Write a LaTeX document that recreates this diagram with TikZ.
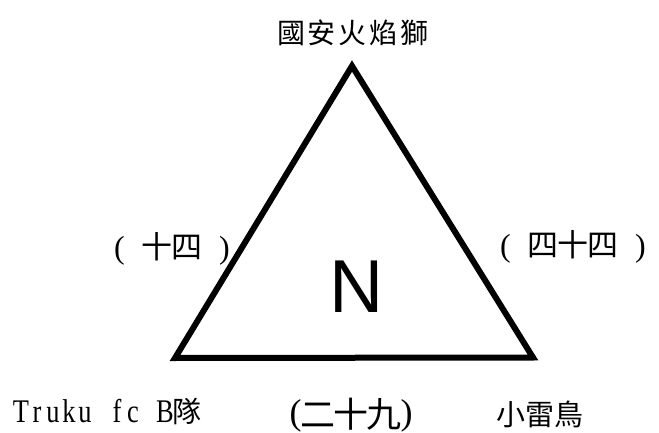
\documentclass[tikz,border=0pt]{standalone}
\usepackage{fontspec}
\setmainfont{Liberation Serif}
\newfontfamily\cjk{Noto Sans CJK TC}
\newfontfamily\lat[FakeStretch=0.8]{Liberation Serif}
\newfontfamily\arial{Liberation Sans}
\newcommand\cell[2]{\makebox[#1pt]{#2}}
\newcommand\fs[1]{\fontsize{#1pt}{#1pt}\selectfont}
\begin{document}
\begin{tikzpicture}[x=1pt,y=-1pt,
  lbl/.style={inner sep=0pt,outer sep=0pt,anchor=base},
  tri/.style={line width=6pt,line join=miter,draw=black}]
\useasboundingbox[fill=white] (0,0) rectangle (659,433);
\coordinate (A) at (352,66);
\coordinate (B) at (175,358);
\coordinate (C) at (533,357.5);
\draw[tri] (A) -- (B) -- (C) -- cycle;
\node[lbl] (top) at (353,43.5) {\cjk\fs{28}\cell{31}{國}\cell{31}{安}\cell{31}{火}\cell{31}{焰}\cell{31}{獅}};
\node[lbl] (left) at (172,258.4) {\fs{32}\cell{15}{(}\cell{15}{}{\cjk\fs{31}\cell{30}{十}\cell{30}{四}}\cell{15}{}\cell{15}{)}};
\node[lbl] (right) at (573,256.4) {\fs{32}\cell{15}{(}\cell{15}{}{\cjk\fs{31}\cell{30}{四}\cell{30}{十}\cell{30}{四}}\cell{15}{}\cell{15}{)}};
\node[lbl] (n) at (357,312) {\arial\fs{75}N};
\node[lbl,anchor=base west] (bl) at (13,422) {\lat\fs{33}\cell{16}{T}\cell{16}{r}\cell{16}{u}\cell{16}{k}\cell{16}{u}\cell{16}{}\cell{16}{f}\cell{16}{c}\cell{16}{}\cell{16}{B}{\cjk\fs{29}\cell{29}{隊}}};
\node[lbl] (bm) at (351,427) {\fs{36}\raisebox{3pt}{(}{\cjk\fs{35}\cell{33}{二}\cell{33}{十}\cell{33}{九}}\raisebox{3pt}{)}};
\node[lbl] (br) at (540,425.6) {\cjk\fs{29}\cell{29}{小}\cell{29}{雷}\cell{29}{鳥}};
\end{tikzpicture}
\end{document}
